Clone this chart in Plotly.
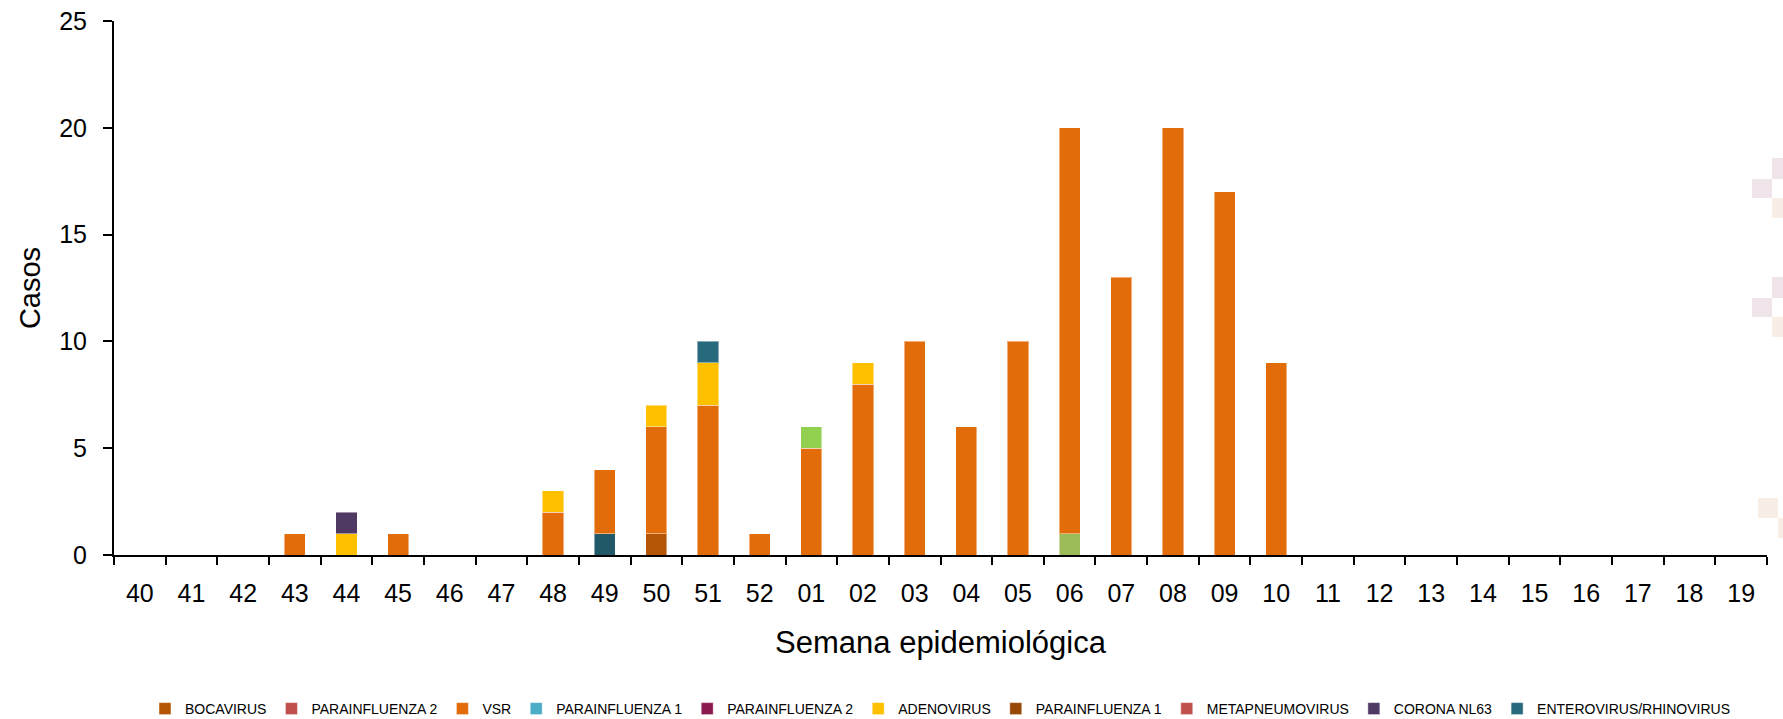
import plotly.graph_objects as go

weeks = ["40", "41", "42", "43", "44", "45", "46", "47", "48", "49", "50", "51", "52",
         "01", "02", "03", "04", "05", "06", "07", "08", "09", "10", "11", "12", "13",
         "14", "15", "16", "17", "18", "19"]

#              40 41 42 43 44 45 46 47 48 49 50 51 52 01 02 03 04 05 06 07 08 09 10 11-19
otros_a     = [0, 0, 0, 0, 0, 0, 0, 0, 0, 0, 0, 0, 0, 0, 0, 0, 0, 0, 1, 0, 0, 0, 0] + [0] * 9
otros_b     = [0, 0, 0, 0, 0, 0, 0, 0, 0, 1, 0, 0, 0, 0, 0, 0, 0, 0, 0, 0, 0, 0, 0] + [0] * 9
bocavirus   = [0, 0, 0, 0, 0, 0, 0, 0, 0, 0, 1, 0, 0, 0, 0, 0, 0, 0, 0, 0, 0, 0, 0] + [0] * 9
parainf2_a  = [0] * 32
vsr         = [0, 0, 0, 1, 0, 1, 0, 0, 2, 3, 5, 7, 1, 5, 8, 10, 6, 10, 19, 13, 20, 17, 9] + [0] * 9
parainf1_a  = [0] * 32
parainf2_b  = [0] * 32
adenovirus  = [0, 0, 0, 0, 1, 0, 0, 0, 1, 0, 1, 2, 0, 0, 1, 0, 0, 0, 0, 0, 0, 0, 0] + [0] * 9
parainf1_b  = [0] * 32
metapneumo  = [0] * 32
otros_c     = [0, 0, 0, 0, 0, 0, 0, 0, 0, 0, 0, 0, 0, 1, 0, 0, 0, 0, 0, 0, 0, 0, 0] + [0] * 9
corona      = [0, 0, 0, 0, 1, 0, 0, 0, 0, 0, 0, 0, 0, 0, 0, 0, 0, 0, 0, 0, 0, 0, 0] + [0] * 9
entero      = [0, 0, 0, 0, 0, 0, 0, 0, 0, 0, 0, 1, 0, 0, 0, 0, 0, 0, 0, 0, 0, 0, 0] + [0] * 9

series = [
    ("OTROS", otros_a, "#9BBB59", False),
    ("OTROS", otros_b, "#215968", False),
    ("BOCAVIRUS", bocavirus, "#B45506", True),
    ("PARAINFLUENZA 2", parainf2_a, "#C0504D", True),
    ("VSR", vsr, "#E36C0A", True),
    ("PARAINFLUENZA 1", parainf1_a, "#4BACC6", True),
    ("PARAINFLUENZA 2", parainf2_b, "#8B1A4E", True),
    ("ADENOVIRUS", adenovirus, "#FFC000", True),
    ("PARAINFLUENZA 1", parainf1_b, "#984807", True),
    ("METAPNEUMOVIRUS", metapneumo, "#C0504D", True),
    ("OTROS", otros_c, "#92D050", False),
    ("CORONA NL63", corona, "#4F3A63", True),
    ("ENTEROVIRUS/RHINOVIRUS", entero, "#276A7C", True),
]

FONT = "Liberation Sans"
W, H = 1783, 719
L, R, T, B = 114, 16, 21, 164

fig = go.Figure()
for name, vals, color, show in series:
    fig.add_trace(go.Bar(
        x=weeks,
        y=[v if v else None for v in vals],
        name=name,
        marker=dict(color=color, line=dict(color="rgba(255,255,255,0.45)", width=1)),
        showlegend=show,
    ))

# faint decorative squares at the right edge (pixel -> paper conversion)
pw, ph = W - L - R, H - T - B
def px(xp):
    return (xp - L) / pw
def py(yp):
    return (H - B - yp) / ph

deco = [
    (1772, 158, 1783, 179, "#EEE4EA"), (1752, 179, 1772, 198, "#EEE4EA"), (1772, 198, 1783, 218, "#F9EEE6"),
    (1772, 277, 1783, 298, "#EEE4EA"), (1752, 298, 1772, 317, "#EEE4EA"), (1772, 317, 1783, 337, "#F9EEE6"),
    (1758, 498, 1778, 518, "#F9EEE6"), (1778, 518, 1783, 538, "#F9EEE6"),
]
shapes = [dict(type="rect", xref="paper", yref="paper", x0=px(a), x1=px(c), y0=py(d), y1=py(b),
               fillcolor=col, line=dict(width=0), layer="below") for a, b, c, d, col in deco]

fig.update_layout(
    width=W, height=H,
    barmode="stack",
    bargap=0.59,
    plot_bgcolor="white",
    paper_bgcolor="white",
    margin=dict(l=L, r=R, t=T, b=B, pad=0, autoexpand=False),
    font=dict(family=FONT, color="black"),
    shapes=shapes,
    legend=dict(orientation="h", x=0.5, xanchor="center", y=py(709), yanchor="middle",
                traceorder="normal", font=dict(size=14, family=FONT), itemwidth=30,
                tracegroupgap=0),
    xaxis=dict(
        type="category",
        categoryorder="array", categoryarray=weeks,
        showline=True, linecolor="black", linewidth=2,
        ticks="outside", ticklen=8, tickwidth=2, tickcolor="black",
        tickson="boundaries",
        tickfont=dict(size=25),
        ticklabelstandoff=15,
        title=dict(text="Semana epidemiológica", font=dict(size=31), standoff=25),
        showgrid=False, zeroline=False, automargin=False,
    ),
    yaxis=dict(
        range=[0, 25], dtick=5,
        showline=True, linecolor="black", linewidth=2,
        ticks="outside", ticklen=9, tickwidth=2, tickcolor="black",
        tickfont=dict(size=25),
        ticklabelstandoff=11,
        title=dict(text="Casos", font=dict(size=29), standoff=10),
        showgrid=False, zeroline=False, automargin=False,
    ),
)

fig.write_html("out.html", config={"displayModeBar": False},
               post_script="document.body.style.margin='0px';document.body.style.overflow='hidden';")
